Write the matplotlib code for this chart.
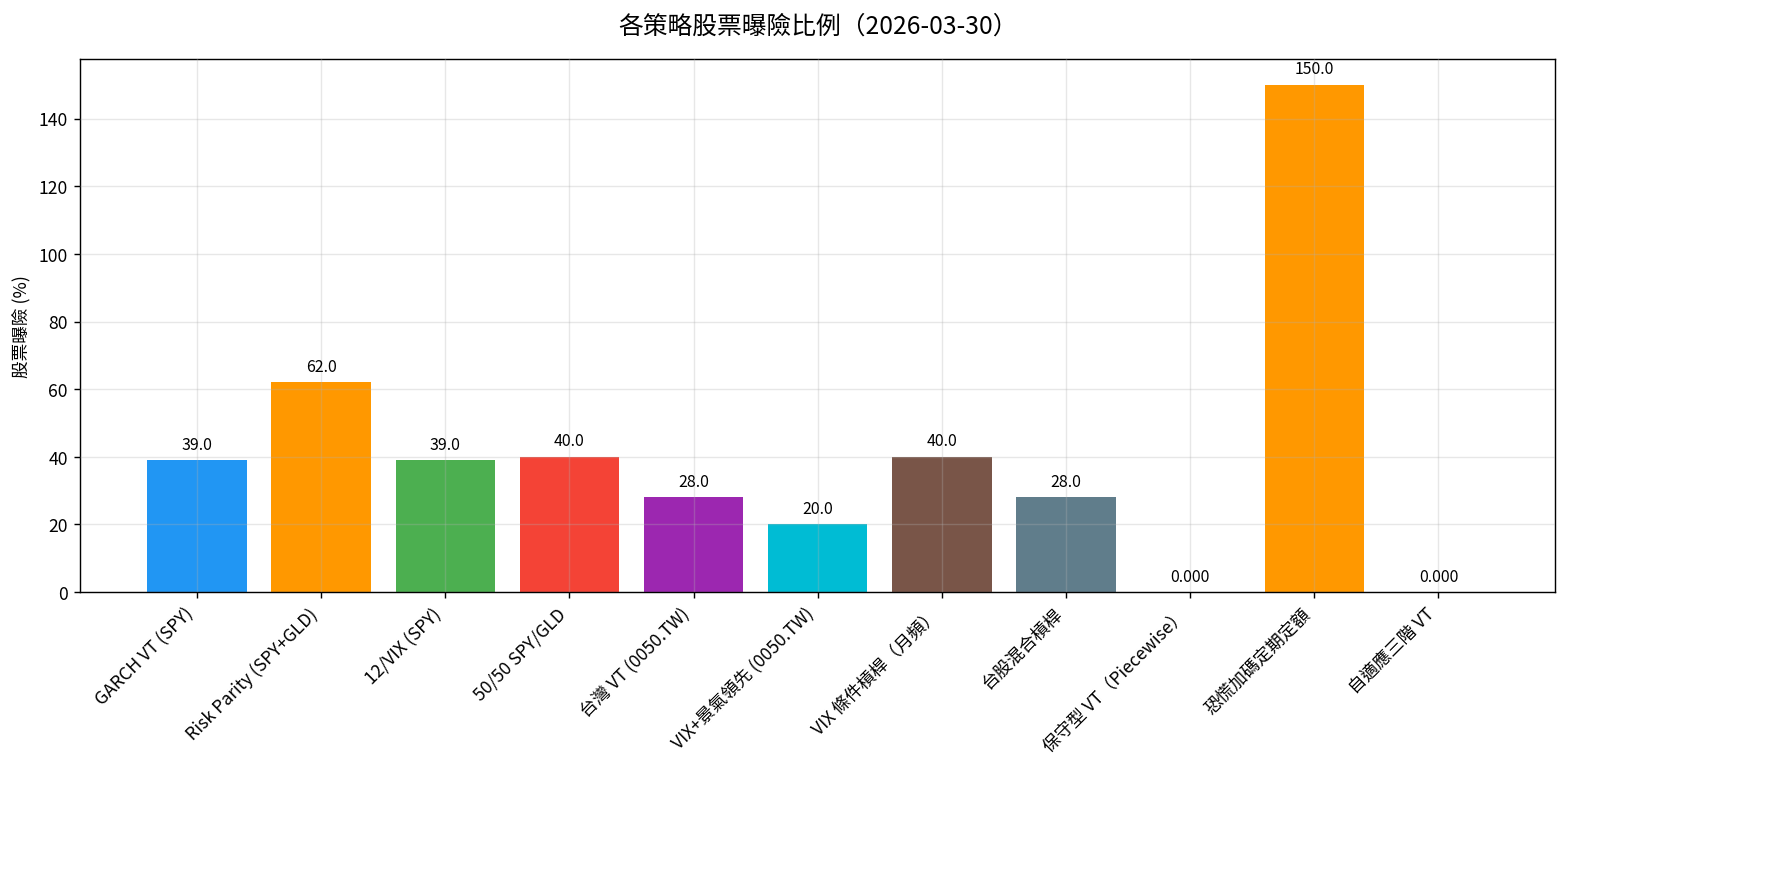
import matplotlib
matplotlib.use("Agg")
import matplotlib.pyplot as plt

plt.rcParams['font.family'] = ['Noto Sans CJK TC', 'DejaVu Sans']

strategies = ["GARCH VT (SPY)", "Risk Parity (SPY+GLD)", "12/VIX (SPY)", "50/50 SPY/GLD",
              "台灣 VT (0050.TW)", "VIX+景氣領先 (0050.TW)", "VIX 條件槓桿（月頻）", "台股混合槓桿",
              "保守型 VT（Piecewise）", "恐慌加碼定期定額", "自適應三階 VT"]
exposure = [39.0, 62.0, 39.0, 40.0, 28.0, 20.0, 40.0, 28.0, 0.0, 150.0, 0.0]
value_labels = ["39.0", "62.0", "39.0", "40.0", "28.0", "20.0", "40.0", "28.0", "0.000", "150.0", "0.000"]
colors = ["#2196F3", "#FF9800", "#4CAF50", "#F44336", "#9C27B0", "#00BCD4",
          "#795548", "#607D8B", "#9E9E9E", "#FF9800", "#E91E63"]

fig, ax = plt.subplots(figsize=(14, 6.95), dpi=127.3)
x = range(len(strategies))
bars = ax.bar(x, exposure, color=colors, width=0.8)
for b, lab in zip(bars, value_labels):
    ax.annotate(lab, (b.get_x() + b.get_width()/2, b.get_height()), xytext=(0, 4),
                textcoords="offset points", ha="center", va="bottom", fontsize=9)
ax.set_xticks(list(x))
ax.set_xticklabels(strategies, rotation=45, ha="right", fontsize=10)
ax.set_ylabel("股票曝險 (%)", fontsize=10)
ax.set_title("各策略股票曝險比例（2026-03-30）", fontsize=14, pad=15)
ax.grid(True, alpha=0.3)
ax.set_axisbelow(False)
fig.subplots_adjust(left=0.045, right=0.873 + 0.0, top=0.932, bottom=0.33)
fig.subplots_adjust(right=0.873)
fig.subplots_adjust(right=1555/1782)
fig.savefig("out.png")
